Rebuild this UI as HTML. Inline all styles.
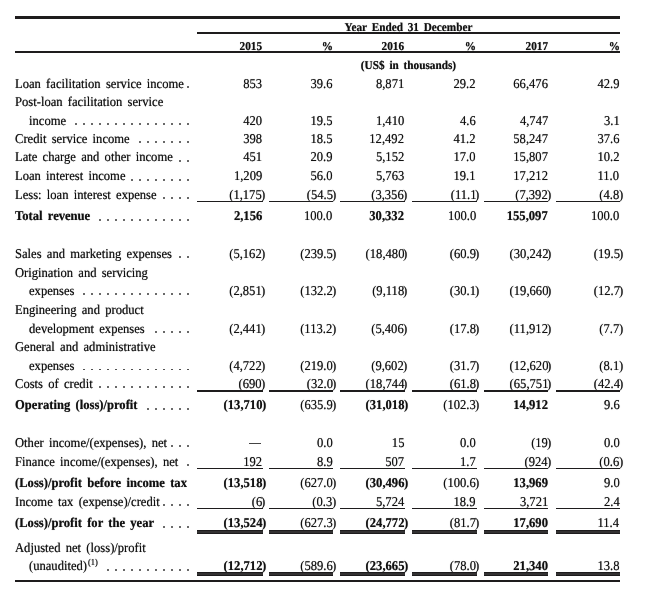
<!DOCTYPE html>
<html><head><meta charset="utf-8"><style>
html,body{margin:0;padding:0;background:#fff;}
body{width:655px;height:603px;position:relative;overflow:hidden;font-family:"Liberation Serif",serif;color:#111;}
.t{position:absolute;font-size:13.45px;line-height:16px;white-space:pre;word-spacing:2.241px;transform:scaleX(0.937);text-rendering:geometricPrecision;text-shadow:0 0 0.7px rgba(20,20,20,0.6);-webkit-text-stroke:0.1px rgba(17,17,17,0.5);}
.L{transform-origin:0 50%;}
.R{transform-origin:100% 50%;}
.C{transform-origin:50% 50%;}
.h{word-spacing:2.134px;}
.l{position:absolute;background:#1e1c1d;}
.d{position:absolute;background:#3a3a3a;border-radius:50%;}
.sup{font-size:9px;position:relative;top:-5.5px;margin-left:1px;}
</style></head><body>
<div id="w" style="position:absolute;left:0;top:0;width:655px;height:603px;will-change:transform;">
<div class="l" style="left:15px;top:16.4px;width:605px;height:2.2px;"></div>
<div class="l" style="left:197px;top:32.1px;width:423px;height:2px;"></div>
<div class="l" style="left:15px;top:51.3px;width:605px;height:1.9px;"></div>
<div class="l" style="left:15px;top:580.2px;width:605px;height:1.7px;"></div>
<div class="t h C" style="left:197.2px;width:423px;text-align:center;top:18.90px;font-weight:bold;font-size:12.0px;">Year Ended 31 December</div>
<div class="t R" style="right:393.00px;top:37.80px;font-weight:bold;font-size:12.0px;">2015</div>
<div class="t R" style="right:322.50px;top:37.80px;font-weight:bold;font-size:12.0px;">%</div>
<div class="t R" style="right:251.00px;top:37.80px;font-weight:bold;font-size:12.0px;">2016</div>
<div class="t R" style="right:179.00px;top:37.80px;font-weight:bold;font-size:12.0px;">%</div>
<div class="t R" style="right:107.00px;top:37.80px;font-weight:bold;font-size:12.0px;">2017</div>
<div class="t R" style="right:35.50px;top:37.80px;font-weight:bold;font-size:12.0px;">%</div>
<div class="t h C" style="left:197.2px;width:423px;text-align:center;top:56.80px;font-weight:bold;font-size:12.0px;">(US$ in thousands)</div>
<div class="t L" style="left:15.30px;top:75.61px;">Loan facilitation service income</div>
<div class="d" style="left:187.05px;top:86.20px;width:1.9px;height:1.9px"></div>
<div class="t R" style="right:393.00px;top:75.61px;">853</div>
<div class="t R" style="right:322.50px;top:75.61px;">39.6</div>
<div class="t R" style="right:251.00px;top:75.61px;">8,871</div>
<div class="t R" style="right:179.00px;top:75.61px;">29.2</div>
<div class="t R" style="right:107.00px;top:75.61px;">66,476</div>
<div class="t R" style="right:35.50px;top:75.61px;">42.9</div>
<div class="t L" style="left:15.30px;top:94.01px;">Post-loan facilitation service</div>
<div class="t L" style="left:29.30px;top:112.71px;">income</div>
<div class="d" style="left:187.05px;top:123.30px;width:1.9px;height:1.9px"></div>
<div class="d" style="left:179.07px;top:123.30px;width:1.9px;height:1.9px"></div>
<div class="d" style="left:171.09px;top:123.30px;width:1.9px;height:1.9px"></div>
<div class="d" style="left:163.11px;top:123.30px;width:1.9px;height:1.9px"></div>
<div class="d" style="left:155.13px;top:123.30px;width:1.9px;height:1.9px"></div>
<div class="d" style="left:147.15px;top:123.30px;width:1.9px;height:1.9px"></div>
<div class="d" style="left:139.17px;top:123.30px;width:1.9px;height:1.9px"></div>
<div class="d" style="left:131.19px;top:123.30px;width:1.9px;height:1.9px"></div>
<div class="d" style="left:123.21px;top:123.30px;width:1.9px;height:1.9px"></div>
<div class="d" style="left:115.23px;top:123.30px;width:1.9px;height:1.9px"></div>
<div class="d" style="left:107.25px;top:123.30px;width:1.9px;height:1.9px"></div>
<div class="d" style="left:99.27px;top:123.30px;width:1.9px;height:1.9px"></div>
<div class="d" style="left:91.29px;top:123.30px;width:1.9px;height:1.9px"></div>
<div class="d" style="left:83.31px;top:123.30px;width:1.9px;height:1.9px"></div>
<div class="d" style="left:75.33px;top:123.30px;width:1.9px;height:1.9px"></div>
<div class="t R" style="right:393.00px;top:112.71px;">420</div>
<div class="t R" style="right:322.50px;top:112.71px;">19.5</div>
<div class="t R" style="right:251.00px;top:112.71px;">1,410</div>
<div class="t R" style="right:179.00px;top:112.71px;">4.6</div>
<div class="t R" style="right:107.00px;top:112.71px;">4,747</div>
<div class="t R" style="right:35.50px;top:112.71px;">3.1</div>
<div class="t L" style="left:15.30px;top:130.61px;">Credit service income</div>
<div class="d" style="left:187.05px;top:141.20px;width:1.9px;height:1.9px"></div>
<div class="d" style="left:179.07px;top:141.20px;width:1.9px;height:1.9px"></div>
<div class="d" style="left:171.09px;top:141.20px;width:1.9px;height:1.9px"></div>
<div class="d" style="left:163.11px;top:141.20px;width:1.9px;height:1.9px"></div>
<div class="d" style="left:155.13px;top:141.20px;width:1.9px;height:1.9px"></div>
<div class="d" style="left:147.15px;top:141.20px;width:1.9px;height:1.9px"></div>
<div class="d" style="left:139.17px;top:141.20px;width:1.9px;height:1.9px"></div>
<div class="t R" style="right:393.00px;top:130.61px;">398</div>
<div class="t R" style="right:322.50px;top:130.61px;">18.5</div>
<div class="t R" style="right:251.00px;top:130.61px;">12,492</div>
<div class="t R" style="right:179.00px;top:130.61px;">41.2</div>
<div class="t R" style="right:107.00px;top:130.61px;">58,247</div>
<div class="t R" style="right:35.50px;top:130.61px;">37.6</div>
<div class="t L" style="left:15.30px;top:149.31px;">Late charge and other income</div>
<div class="d" style="left:187.05px;top:159.90px;width:1.9px;height:1.9px"></div>
<div class="d" style="left:179.07px;top:159.90px;width:1.9px;height:1.9px"></div>
<div class="t R" style="right:393.00px;top:149.31px;">451</div>
<div class="t R" style="right:322.50px;top:149.31px;">20.9</div>
<div class="t R" style="right:251.00px;top:149.31px;">5,152</div>
<div class="t R" style="right:179.00px;top:149.31px;">17.0</div>
<div class="t R" style="right:107.00px;top:149.31px;">15,807</div>
<div class="t R" style="right:35.50px;top:149.31px;">10.2</div>
<div class="t L" style="left:15.30px;top:168.41px;">Loan interest income</div>
<div class="d" style="left:187.05px;top:179.00px;width:1.9px;height:1.9px"></div>
<div class="d" style="left:179.07px;top:179.00px;width:1.9px;height:1.9px"></div>
<div class="d" style="left:171.09px;top:179.00px;width:1.9px;height:1.9px"></div>
<div class="d" style="left:163.11px;top:179.00px;width:1.9px;height:1.9px"></div>
<div class="d" style="left:155.13px;top:179.00px;width:1.9px;height:1.9px"></div>
<div class="d" style="left:147.15px;top:179.00px;width:1.9px;height:1.9px"></div>
<div class="d" style="left:139.17px;top:179.00px;width:1.9px;height:1.9px"></div>
<div class="d" style="left:131.19px;top:179.00px;width:1.9px;height:1.9px"></div>
<div class="t R" style="right:393.00px;top:168.41px;">1,209</div>
<div class="t R" style="right:322.50px;top:168.41px;">56.0</div>
<div class="t R" style="right:251.00px;top:168.41px;">5,763</div>
<div class="t R" style="right:179.00px;top:168.41px;">19.1</div>
<div class="t R" style="right:107.00px;top:168.41px;">17,212</div>
<div class="t R" style="right:35.50px;top:168.41px;">11.0</div>
<div class="t L" style="left:15.30px;top:186.81px;">Less: loan interest expense</div>
<div class="d" style="left:187.05px;top:197.40px;width:1.9px;height:1.9px"></div>
<div class="d" style="left:179.07px;top:197.40px;width:1.9px;height:1.9px"></div>
<div class="d" style="left:171.09px;top:197.40px;width:1.9px;height:1.9px"></div>
<div class="d" style="left:163.11px;top:197.40px;width:1.9px;height:1.9px"></div>
<div class="t R" style="right:393.00px;top:186.81px;">(1,175</div>
<div class="t L" style="left:261.40px;top:186.81px;">)</div>
<div class="t R" style="right:322.50px;top:186.81px;">(54.5</div>
<div class="t L" style="left:331.90px;top:186.81px;">)</div>
<div class="t R" style="right:251.00px;top:186.81px;">(3,356</div>
<div class="t L" style="left:403.40px;top:186.81px;">)</div>
<div class="t R" style="right:179.00px;top:186.81px;">(11.1</div>
<div class="t L" style="left:475.40px;top:186.81px;">)</div>
<div class="t R" style="right:107.00px;top:186.81px;">(7,392</div>
<div class="t L" style="left:547.40px;top:186.81px;">)</div>
<div class="t R" style="right:35.50px;top:186.81px;">(4.8</div>
<div class="t L" style="left:618.90px;top:186.81px;">)</div>
<div class="l" style="left:196.6px;top:200.60px;width:66.20000000000002px;height:1.7px"></div>
<div class="l" style="left:269px;top:200.60px;width:64.30000000000001px;height:1.7px"></div>
<div class="l" style="left:340.4px;top:200.60px;width:64.60000000000002px;height:1.7px"></div>
<div class="l" style="left:412px;top:200.60px;width:65.19999999999999px;height:1.7px"></div>
<div class="l" style="left:483.6px;top:200.60px;width:64.69999999999993px;height:1.7px"></div>
<div class="l" style="left:555.5px;top:200.60px;width:64.5px;height:1.7px"></div>
<div class="t L" style="left:15.30px;top:208.31px;font-weight:bold;">Total revenue</div>
<div class="d" style="left:186.95px;top:218.70px;width:2.1px;height:2.1px"></div>
<div class="d" style="left:178.97px;top:218.70px;width:2.1px;height:2.1px"></div>
<div class="d" style="left:170.99px;top:218.70px;width:2.1px;height:2.1px"></div>
<div class="d" style="left:163.01px;top:218.70px;width:2.1px;height:2.1px"></div>
<div class="d" style="left:155.03px;top:218.70px;width:2.1px;height:2.1px"></div>
<div class="d" style="left:147.05px;top:218.70px;width:2.1px;height:2.1px"></div>
<div class="d" style="left:139.07px;top:218.70px;width:2.1px;height:2.1px"></div>
<div class="d" style="left:131.09px;top:218.70px;width:2.1px;height:2.1px"></div>
<div class="d" style="left:123.11px;top:218.70px;width:2.1px;height:2.1px"></div>
<div class="d" style="left:115.13px;top:218.70px;width:2.1px;height:2.1px"></div>
<div class="d" style="left:107.15px;top:218.70px;width:2.1px;height:2.1px"></div>
<div class="d" style="left:99.17px;top:218.70px;width:2.1px;height:2.1px"></div>
<div class="t R" style="right:393.00px;top:208.31px;font-weight:bold;">2,156</div>
<div class="t R" style="right:322.50px;top:208.31px;">100.0</div>
<div class="t R" style="right:251.00px;top:208.31px;font-weight:bold;">30,332</div>
<div class="t R" style="right:179.00px;top:208.31px;">100.0</div>
<div class="t R" style="right:107.00px;top:208.31px;font-weight:bold;">155,097</div>
<div class="t R" style="right:35.50px;top:208.31px;">100.0</div>
<div class="t L" style="left:15.30px;top:245.61px;">Sales and marketing expenses</div>
<div class="d" style="left:187.05px;top:256.20px;width:1.9px;height:1.9px"></div>
<div class="d" style="left:179.07px;top:256.20px;width:1.9px;height:1.9px"></div>
<div class="t R" style="right:393.00px;top:245.61px;">(5,162</div>
<div class="t L" style="left:261.40px;top:245.61px;">)</div>
<div class="t R" style="right:322.50px;top:245.61px;">(239.5</div>
<div class="t L" style="left:331.90px;top:245.61px;">)</div>
<div class="t R" style="right:251.00px;top:245.61px;">(18,480</div>
<div class="t L" style="left:403.40px;top:245.61px;">)</div>
<div class="t R" style="right:179.00px;top:245.61px;">(60.9</div>
<div class="t L" style="left:475.40px;top:245.61px;">)</div>
<div class="t R" style="right:107.00px;top:245.61px;">(30,242</div>
<div class="t L" style="left:547.40px;top:245.61px;">)</div>
<div class="t R" style="right:35.50px;top:245.61px;">(19.5</div>
<div class="t L" style="left:618.90px;top:245.61px;">)</div>
<div class="t L" style="left:15.30px;top:264.91px;">Origination and servicing</div>
<div class="t L" style="left:29.30px;top:282.51px;">expenses</div>
<div class="d" style="left:187.05px;top:293.10px;width:1.9px;height:1.9px"></div>
<div class="d" style="left:179.07px;top:293.10px;width:1.9px;height:1.9px"></div>
<div class="d" style="left:171.09px;top:293.10px;width:1.9px;height:1.9px"></div>
<div class="d" style="left:163.11px;top:293.10px;width:1.9px;height:1.9px"></div>
<div class="d" style="left:155.13px;top:293.10px;width:1.9px;height:1.9px"></div>
<div class="d" style="left:147.15px;top:293.10px;width:1.9px;height:1.9px"></div>
<div class="d" style="left:139.17px;top:293.10px;width:1.9px;height:1.9px"></div>
<div class="d" style="left:131.19px;top:293.10px;width:1.9px;height:1.9px"></div>
<div class="d" style="left:123.21px;top:293.10px;width:1.9px;height:1.9px"></div>
<div class="d" style="left:115.23px;top:293.10px;width:1.9px;height:1.9px"></div>
<div class="d" style="left:107.25px;top:293.10px;width:1.9px;height:1.9px"></div>
<div class="d" style="left:99.27px;top:293.10px;width:1.9px;height:1.9px"></div>
<div class="d" style="left:91.29px;top:293.10px;width:1.9px;height:1.9px"></div>
<div class="d" style="left:83.31px;top:293.10px;width:1.9px;height:1.9px"></div>
<div class="t R" style="right:393.00px;top:282.51px;">(2,851</div>
<div class="t L" style="left:261.40px;top:282.51px;">)</div>
<div class="t R" style="right:322.50px;top:282.51px;">(132.2</div>
<div class="t L" style="left:331.90px;top:282.51px;">)</div>
<div class="t R" style="right:251.00px;top:282.51px;">(9,118</div>
<div class="t L" style="left:403.40px;top:282.51px;">)</div>
<div class="t R" style="right:179.00px;top:282.51px;">(30.1</div>
<div class="t L" style="left:475.40px;top:282.51px;">)</div>
<div class="t R" style="right:107.00px;top:282.51px;">(19,660</div>
<div class="t L" style="left:547.40px;top:282.51px;">)</div>
<div class="t R" style="right:35.50px;top:282.51px;">(12.7</div>
<div class="t L" style="left:618.90px;top:282.51px;">)</div>
<div class="t L" style="left:15.30px;top:301.91px;">Engineering and product</div>
<div class="t L" style="left:29.30px;top:320.51px;">development expenses</div>
<div class="d" style="left:187.05px;top:331.10px;width:1.9px;height:1.9px"></div>
<div class="d" style="left:179.07px;top:331.10px;width:1.9px;height:1.9px"></div>
<div class="d" style="left:171.09px;top:331.10px;width:1.9px;height:1.9px"></div>
<div class="d" style="left:163.11px;top:331.10px;width:1.9px;height:1.9px"></div>
<div class="d" style="left:155.13px;top:331.10px;width:1.9px;height:1.9px"></div>
<div class="t R" style="right:393.00px;top:320.51px;">(2,441</div>
<div class="t L" style="left:261.40px;top:320.51px;">)</div>
<div class="t R" style="right:322.50px;top:320.51px;">(113.2</div>
<div class="t L" style="left:331.90px;top:320.51px;">)</div>
<div class="t R" style="right:251.00px;top:320.51px;">(5,406</div>
<div class="t L" style="left:403.40px;top:320.51px;">)</div>
<div class="t R" style="right:179.00px;top:320.51px;">(17.8</div>
<div class="t L" style="left:475.40px;top:320.51px;">)</div>
<div class="t R" style="right:107.00px;top:320.51px;">(11,912</div>
<div class="t L" style="left:547.40px;top:320.51px;">)</div>
<div class="t R" style="right:35.50px;top:320.51px;">(7.7</div>
<div class="t L" style="left:618.90px;top:320.51px;">)</div>
<div class="t L" style="left:15.30px;top:338.81px;">General and administrative</div>
<div class="t L" style="left:29.30px;top:357.91px;">expenses</div>
<div class="d" style="left:187.05px;top:368.50px;width:1.9px;height:1.9px"></div>
<div class="d" style="left:179.07px;top:368.50px;width:1.9px;height:1.9px"></div>
<div class="d" style="left:171.09px;top:368.50px;width:1.9px;height:1.9px"></div>
<div class="d" style="left:163.11px;top:368.50px;width:1.9px;height:1.9px"></div>
<div class="d" style="left:155.13px;top:368.50px;width:1.9px;height:1.9px"></div>
<div class="d" style="left:147.15px;top:368.50px;width:1.9px;height:1.9px"></div>
<div class="d" style="left:139.17px;top:368.50px;width:1.9px;height:1.9px"></div>
<div class="d" style="left:131.19px;top:368.50px;width:1.9px;height:1.9px"></div>
<div class="d" style="left:123.21px;top:368.50px;width:1.9px;height:1.9px"></div>
<div class="d" style="left:115.23px;top:368.50px;width:1.9px;height:1.9px"></div>
<div class="d" style="left:107.25px;top:368.50px;width:1.9px;height:1.9px"></div>
<div class="d" style="left:99.27px;top:368.50px;width:1.9px;height:1.9px"></div>
<div class="d" style="left:91.29px;top:368.50px;width:1.9px;height:1.9px"></div>
<div class="d" style="left:83.31px;top:368.50px;width:1.9px;height:1.9px"></div>
<div class="t R" style="right:393.00px;top:357.91px;">(4,722</div>
<div class="t L" style="left:261.40px;top:357.91px;">)</div>
<div class="t R" style="right:322.50px;top:357.91px;">(219.0</div>
<div class="t L" style="left:331.90px;top:357.91px;">)</div>
<div class="t R" style="right:251.00px;top:357.91px;">(9,602</div>
<div class="t L" style="left:403.40px;top:357.91px;">)</div>
<div class="t R" style="right:179.00px;top:357.91px;">(31.7</div>
<div class="t L" style="left:475.40px;top:357.91px;">)</div>
<div class="t R" style="right:107.00px;top:357.91px;">(12,620</div>
<div class="t L" style="left:547.40px;top:357.91px;">)</div>
<div class="t R" style="right:35.50px;top:357.91px;">(8.1</div>
<div class="t L" style="left:618.90px;top:357.91px;">)</div>
<div class="t L" style="left:15.30px;top:375.71px;">Costs of credit</div>
<div class="d" style="left:187.05px;top:386.30px;width:1.9px;height:1.9px"></div>
<div class="d" style="left:179.07px;top:386.30px;width:1.9px;height:1.9px"></div>
<div class="d" style="left:171.09px;top:386.30px;width:1.9px;height:1.9px"></div>
<div class="d" style="left:163.11px;top:386.30px;width:1.9px;height:1.9px"></div>
<div class="d" style="left:155.13px;top:386.30px;width:1.9px;height:1.9px"></div>
<div class="d" style="left:147.15px;top:386.30px;width:1.9px;height:1.9px"></div>
<div class="d" style="left:139.17px;top:386.30px;width:1.9px;height:1.9px"></div>
<div class="d" style="left:131.19px;top:386.30px;width:1.9px;height:1.9px"></div>
<div class="d" style="left:123.21px;top:386.30px;width:1.9px;height:1.9px"></div>
<div class="d" style="left:115.23px;top:386.30px;width:1.9px;height:1.9px"></div>
<div class="d" style="left:107.25px;top:386.30px;width:1.9px;height:1.9px"></div>
<div class="d" style="left:99.27px;top:386.30px;width:1.9px;height:1.9px"></div>
<div class="t R" style="right:393.00px;top:375.71px;">(690</div>
<div class="t L" style="left:261.40px;top:375.71px;">)</div>
<div class="t R" style="right:322.50px;top:375.71px;">(32.0</div>
<div class="t L" style="left:331.90px;top:375.71px;">)</div>
<div class="t R" style="right:251.00px;top:375.71px;">(18,744</div>
<div class="t L" style="left:403.40px;top:375.71px;">)</div>
<div class="t R" style="right:179.00px;top:375.71px;">(61.8</div>
<div class="t L" style="left:475.40px;top:375.71px;">)</div>
<div class="t R" style="right:107.00px;top:375.71px;">(65,751</div>
<div class="t L" style="left:547.40px;top:375.71px;">)</div>
<div class="t R" style="right:35.50px;top:375.71px;">(42.4</div>
<div class="t L" style="left:618.90px;top:375.71px;">)</div>
<div class="l" style="left:196.6px;top:389.90px;width:66.20000000000002px;height:1.7px"></div>
<div class="l" style="left:269px;top:389.90px;width:64.30000000000001px;height:1.7px"></div>
<div class="l" style="left:340.4px;top:389.90px;width:64.60000000000002px;height:1.7px"></div>
<div class="l" style="left:412px;top:389.90px;width:65.19999999999999px;height:1.7px"></div>
<div class="l" style="left:483.6px;top:389.90px;width:64.69999999999993px;height:1.7px"></div>
<div class="l" style="left:555.5px;top:389.90px;width:64.5px;height:1.7px"></div>
<div class="t L" style="left:15.30px;top:397.11px;font-weight:bold;">Operating (loss)/profit</div>
<div class="d" style="left:186.95px;top:407.50px;width:2.1px;height:2.1px"></div>
<div class="d" style="left:178.97px;top:407.50px;width:2.1px;height:2.1px"></div>
<div class="d" style="left:170.99px;top:407.50px;width:2.1px;height:2.1px"></div>
<div class="d" style="left:163.01px;top:407.50px;width:2.1px;height:2.1px"></div>
<div class="d" style="left:155.03px;top:407.50px;width:2.1px;height:2.1px"></div>
<div class="d" style="left:147.05px;top:407.50px;width:2.1px;height:2.1px"></div>
<div class="t R" style="right:393.00px;top:397.11px;font-weight:bold;">(13,710</div>
<div class="t L" style="left:262.40px;top:397.11px;font-weight:bold;">)</div>
<div class="t R" style="right:322.50px;top:397.11px;">(635.9</div>
<div class="t L" style="left:331.90px;top:397.11px;">)</div>
<div class="t R" style="right:251.00px;top:397.11px;font-weight:bold;">(31,018</div>
<div class="t L" style="left:404.40px;top:397.11px;font-weight:bold;">)</div>
<div class="t R" style="right:179.00px;top:397.11px;">(102.3</div>
<div class="t L" style="left:475.40px;top:397.11px;">)</div>
<div class="t R" style="right:107.00px;top:397.11px;font-weight:bold;">14,912</div>
<div class="t R" style="right:35.50px;top:397.11px;">9.6</div>
<div class="t L" style="left:15.30px;top:434.51px;">Other income/(expenses), net</div>
<div class="d" style="left:187.05px;top:445.10px;width:1.9px;height:1.9px"></div>
<div class="d" style="left:179.07px;top:445.10px;width:1.9px;height:1.9px"></div>
<div class="d" style="left:171.09px;top:445.10px;width:1.9px;height:1.9px"></div>
<div class="l" style="left:249px;top:443px;width:12px;height:1.1px;background:#444"></div>
<div class="t R" style="right:322.50px;top:434.51px;">0.0</div>
<div class="t R" style="right:251.00px;top:434.51px;">15</div>
<div class="t R" style="right:179.00px;top:434.51px;">0.0</div>
<div class="t R" style="right:107.00px;top:434.51px;">(19</div>
<div class="t L" style="left:547.40px;top:434.51px;">)</div>
<div class="t R" style="right:35.50px;top:434.51px;">0.0</div>
<div class="t L" style="left:15.30px;top:453.61px;">Finance income/(expenses), net</div>
<div class="d" style="left:187.05px;top:464.20px;width:1.9px;height:1.9px"></div>
<div class="t R" style="right:393.00px;top:453.61px;">192</div>
<div class="t R" style="right:322.50px;top:453.61px;">8.9</div>
<div class="t R" style="right:251.00px;top:453.61px;">507</div>
<div class="t R" style="right:179.00px;top:453.61px;">1.7</div>
<div class="t R" style="right:107.00px;top:453.61px;">(924</div>
<div class="t L" style="left:547.40px;top:453.61px;">)</div>
<div class="t R" style="right:35.50px;top:453.61px;">(0.6</div>
<div class="t L" style="left:618.90px;top:453.61px;">)</div>
<div class="l" style="left:196.6px;top:467.50px;width:66.20000000000002px;height:1.7px"></div>
<div class="l" style="left:269px;top:467.50px;width:64.30000000000001px;height:1.7px"></div>
<div class="l" style="left:340.4px;top:467.50px;width:64.60000000000002px;height:1.7px"></div>
<div class="l" style="left:412px;top:467.50px;width:65.19999999999999px;height:1.7px"></div>
<div class="l" style="left:483.6px;top:467.50px;width:64.69999999999993px;height:1.7px"></div>
<div class="l" style="left:555.5px;top:467.50px;width:64.5px;height:1.7px"></div>
<div class="t L" style="left:15.30px;top:474.91px;font-weight:bold;">(Loss)/profit before income tax</div>
<div class="t R" style="right:393.00px;top:474.91px;font-weight:bold;">(13,518</div>
<div class="t L" style="left:262.40px;top:474.91px;font-weight:bold;">)</div>
<div class="t R" style="right:322.50px;top:474.91px;">(627.0</div>
<div class="t L" style="left:331.90px;top:474.91px;">)</div>
<div class="t R" style="right:251.00px;top:474.91px;font-weight:bold;">(30,496</div>
<div class="t L" style="left:404.40px;top:474.91px;font-weight:bold;">)</div>
<div class="t R" style="right:179.00px;top:474.91px;">(100.6</div>
<div class="t L" style="left:475.40px;top:474.91px;">)</div>
<div class="t R" style="right:107.00px;top:474.91px;font-weight:bold;">13,969</div>
<div class="t R" style="right:35.50px;top:474.91px;">9.0</div>
<div class="t L" style="left:15.30px;top:493.81px;">Income tax (expense)/credit</div>
<div class="d" style="left:187.05px;top:504.40px;width:1.9px;height:1.9px"></div>
<div class="d" style="left:179.07px;top:504.40px;width:1.9px;height:1.9px"></div>
<div class="d" style="left:171.09px;top:504.40px;width:1.9px;height:1.9px"></div>
<div class="d" style="left:163.11px;top:504.40px;width:1.9px;height:1.9px"></div>
<div class="t R" style="right:393.00px;top:493.81px;">(6</div>
<div class="t L" style="left:261.40px;top:493.81px;">)</div>
<div class="t R" style="right:322.50px;top:493.81px;">(0.3</div>
<div class="t L" style="left:331.90px;top:493.81px;">)</div>
<div class="t R" style="right:251.00px;top:493.81px;">5,724</div>
<div class="t R" style="right:179.00px;top:493.81px;">18.9</div>
<div class="t R" style="right:107.00px;top:493.81px;">3,721</div>
<div class="t R" style="right:35.50px;top:493.81px;">2.4</div>
<div class="l" style="left:196.6px;top:507.60px;width:66.20000000000002px;height:1.7px"></div>
<div class="l" style="left:269px;top:507.60px;width:64.30000000000001px;height:1.7px"></div>
<div class="l" style="left:340.4px;top:507.60px;width:64.60000000000002px;height:1.7px"></div>
<div class="l" style="left:412px;top:507.60px;width:65.19999999999999px;height:1.7px"></div>
<div class="l" style="left:483.6px;top:507.60px;width:64.69999999999993px;height:1.7px"></div>
<div class="l" style="left:555.5px;top:507.60px;width:64.5px;height:1.7px"></div>
<div class="t L" style="left:15.30px;top:515.31px;font-weight:bold;">(Loss)/profit for the year</div>
<div class="d" style="left:186.95px;top:525.70px;width:2.1px;height:2.1px"></div>
<div class="d" style="left:178.97px;top:525.70px;width:2.1px;height:2.1px"></div>
<div class="d" style="left:170.99px;top:525.70px;width:2.1px;height:2.1px"></div>
<div class="d" style="left:163.01px;top:525.70px;width:2.1px;height:2.1px"></div>
<div class="t R" style="right:393.00px;top:515.31px;font-weight:bold;">(13,524</div>
<div class="t L" style="left:262.40px;top:515.31px;font-weight:bold;">)</div>
<div class="t R" style="right:322.50px;top:515.31px;">(627.3</div>
<div class="t L" style="left:331.90px;top:515.31px;">)</div>
<div class="t R" style="right:251.00px;top:515.31px;font-weight:bold;">(24,772</div>
<div class="t L" style="left:404.40px;top:515.31px;font-weight:bold;">)</div>
<div class="t R" style="right:179.00px;top:515.31px;">(81.7</div>
<div class="t L" style="left:475.40px;top:515.31px;">)</div>
<div class="t R" style="right:107.00px;top:515.31px;font-weight:bold;">17,690</div>
<div class="t R" style="right:35.50px;top:515.31px;">11.4</div>
<div class="l" style="left:196.6px;top:529.80px;width:66.20000000000002px;height:4.2px;background:linear-gradient(#1e1c1d 0,#1e1c1d 36%,#aaa 46%,#aaa 54%,#1e1c1d 64%,#1e1c1d 100%)"></div>
<div class="l" style="left:269px;top:529.80px;width:64.30000000000001px;height:4.2px;background:linear-gradient(#1e1c1d 0,#1e1c1d 36%,#aaa 46%,#aaa 54%,#1e1c1d 64%,#1e1c1d 100%)"></div>
<div class="l" style="left:340.4px;top:529.80px;width:64.60000000000002px;height:4.2px;background:linear-gradient(#1e1c1d 0,#1e1c1d 36%,#aaa 46%,#aaa 54%,#1e1c1d 64%,#1e1c1d 100%)"></div>
<div class="l" style="left:412px;top:529.80px;width:65.19999999999999px;height:4.2px;background:linear-gradient(#1e1c1d 0,#1e1c1d 36%,#aaa 46%,#aaa 54%,#1e1c1d 64%,#1e1c1d 100%)"></div>
<div class="l" style="left:483.6px;top:529.80px;width:64.69999999999993px;height:4.2px;background:linear-gradient(#1e1c1d 0,#1e1c1d 36%,#aaa 46%,#aaa 54%,#1e1c1d 64%,#1e1c1d 100%)"></div>
<div class="l" style="left:555.5px;top:529.80px;width:64.5px;height:4.2px;background:linear-gradient(#1e1c1d 0,#1e1c1d 36%,#aaa 46%,#aaa 54%,#1e1c1d 64%,#1e1c1d 100%)"></div>
<div class="t L" style="left:15.30px;top:539.51px;">Adjusted net (loss)/profit</div>
<div class="t L" style="left:28.60px;top:558.31px;">(unaudited)<span class="sup">(1)</span></div>
<div class="d" style="left:187.05px;top:568.90px;width:1.9px;height:1.9px"></div>
<div class="d" style="left:179.07px;top:568.90px;width:1.9px;height:1.9px"></div>
<div class="d" style="left:171.09px;top:568.90px;width:1.9px;height:1.9px"></div>
<div class="d" style="left:163.11px;top:568.90px;width:1.9px;height:1.9px"></div>
<div class="d" style="left:155.13px;top:568.90px;width:1.9px;height:1.9px"></div>
<div class="d" style="left:147.15px;top:568.90px;width:1.9px;height:1.9px"></div>
<div class="d" style="left:139.17px;top:568.90px;width:1.9px;height:1.9px"></div>
<div class="d" style="left:131.19px;top:568.90px;width:1.9px;height:1.9px"></div>
<div class="d" style="left:123.21px;top:568.90px;width:1.9px;height:1.9px"></div>
<div class="d" style="left:115.23px;top:568.90px;width:1.9px;height:1.9px"></div>
<div class="d" style="left:107.25px;top:568.90px;width:1.9px;height:1.9px"></div>
<div class="t R" style="right:393.00px;top:558.31px;font-weight:bold;">(12,712</div>
<div class="t L" style="left:262.40px;top:558.31px;font-weight:bold;">)</div>
<div class="t R" style="right:322.50px;top:558.31px;">(589.6</div>
<div class="t L" style="left:331.90px;top:558.31px;">)</div>
<div class="t R" style="right:251.00px;top:558.31px;font-weight:bold;">(23,665</div>
<div class="t L" style="left:404.40px;top:558.31px;font-weight:bold;">)</div>
<div class="t R" style="right:179.00px;top:558.31px;">(78.0</div>
<div class="t L" style="left:475.40px;top:558.31px;">)</div>
<div class="t R" style="right:107.00px;top:558.31px;font-weight:bold;">21,340</div>
<div class="t R" style="right:35.50px;top:558.31px;">13.8</div>
<div class="l" style="left:196.6px;top:572.00px;width:66.20000000000002px;height:4.2px;background:linear-gradient(#1e1c1d 0,#1e1c1d 36%,#aaa 46%,#aaa 54%,#1e1c1d 64%,#1e1c1d 100%)"></div>
<div class="l" style="left:269px;top:572.00px;width:64.30000000000001px;height:4.2px;background:linear-gradient(#1e1c1d 0,#1e1c1d 36%,#aaa 46%,#aaa 54%,#1e1c1d 64%,#1e1c1d 100%)"></div>
<div class="l" style="left:340.4px;top:572.00px;width:64.60000000000002px;height:4.2px;background:linear-gradient(#1e1c1d 0,#1e1c1d 36%,#aaa 46%,#aaa 54%,#1e1c1d 64%,#1e1c1d 100%)"></div>
<div class="l" style="left:412px;top:572.00px;width:65.19999999999999px;height:4.2px;background:linear-gradient(#1e1c1d 0,#1e1c1d 36%,#aaa 46%,#aaa 54%,#1e1c1d 64%,#1e1c1d 100%)"></div>
<div class="l" style="left:483.6px;top:572.00px;width:64.69999999999993px;height:4.2px;background:linear-gradient(#1e1c1d 0,#1e1c1d 36%,#aaa 46%,#aaa 54%,#1e1c1d 64%,#1e1c1d 100%)"></div>
<div class="l" style="left:555.5px;top:572.00px;width:64.5px;height:4.2px;background:linear-gradient(#1e1c1d 0,#1e1c1d 36%,#aaa 46%,#aaa 54%,#1e1c1d 64%,#1e1c1d 100%)"></div>
</div>
</body></html>
